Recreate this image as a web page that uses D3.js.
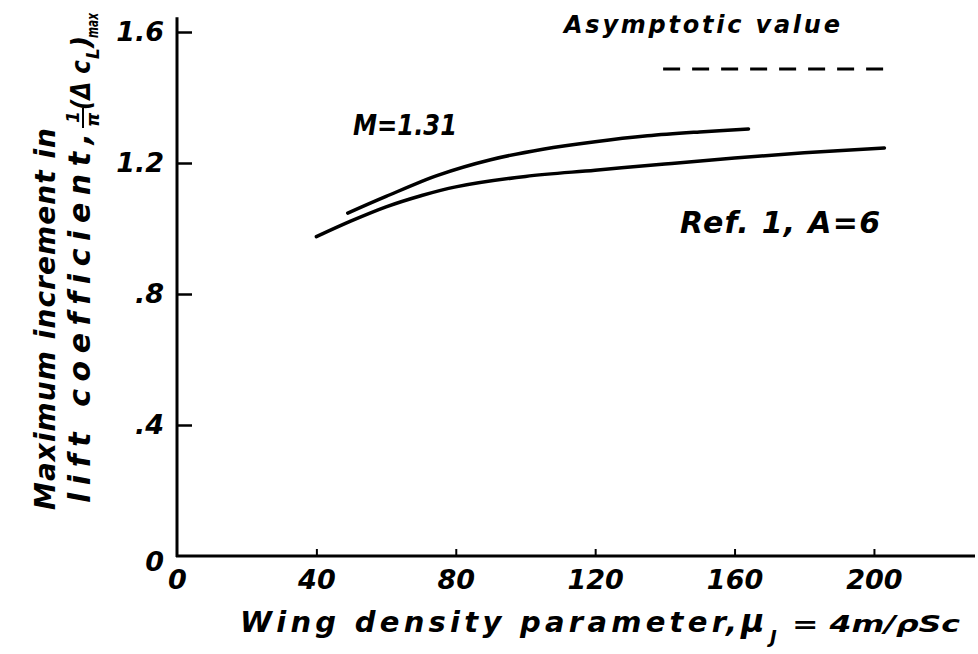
<!DOCTYPE html>
<html>
<head>
<meta charset="utf-8">
<script src="https://cdn.jsdelivr.net/npm/d3@7"></script>
<style>
  body { margin: 0; background: #fff; }
  text { font-family: "DejaVu Sans", sans-serif; font-style: italic; font-weight: bold; fill: #000;
         font-variant-ligatures: none; }
</style>
</head>
<body>
<div id="chart"></div>
<script>
// chart size
const width = 978
const height = 654

// data
const xTicks = [0, 40, 80, 120, 160, 200]
const yTicks = [0, 0.4, 0.8, 1.2, 1.6]
const yTickLabels = ["0", ".4", ".8", "1.2", "1.6"]

// Ref. 1, A = 6
const refMu = [40, 50, 60, 70, 80, 100, 120, 140, 160, 180, 203]
const refVal = [0.975, 1.023, 1.066, 1.1, 1.127, 1.159, 1.178, 1.197, 1.215, 1.231, 1.246]

// M = 1.31
const machMu = [49, 60, 75, 90, 105, 120, 135, 150, 164]
const machVal = [1.047, 1.098, 1.163, 1.21, 1.242, 1.265, 1.283, 1.295, 1.304]

// asymptotic value (dashed)
const asymMu = [139.5, 203]
const asymVal = [1.487, 1.487]

// scales
var x = d3.scaleLinear().domain([0, 229]).range([177, 975])
var y = d3.scaleLinear().domain([0, 1.6]).range([556, 32])

var svg = d3.select("#chart")
            .append("svg")
            .attr("width", width)
            .attr("height", height)

svg.append("rect").attr("width", width).attr("height", height).attr("fill", "white")

// axes lines
svg.append("line")
   .attr("x1", x(0)).attr("x2", x(0))
   .attr("y1", y(0) + 1).attr("y2", y(1.645))
   .attr("stroke", "black").attr("stroke-width", 3)

svg.append("line")
   .attr("x1", x(0) - 1).attr("x2", x(229))
   .attr("y1", y(0)).attr("y2", y(0))
   .attr("stroke", "black").attr("stroke-width", 3)

// y axis ticks (inward) and labels
var yAxis = d3.axisLeft(y)
  .tickValues(yTicks)
  .tickSizeInner(-15)
  .tickSizeOuter(0)
  .tickPadding(13)
  .tickFormat(function(d, i) { return yTickLabels[i] })

var gy = svg.append("g")
  .attr("transform", "translate(" + x(0) + ",0)")
  .call(yAxis)
gy.select(".domain").remove()
gy.selectAll(".tick line").attr("stroke", "black").attr("stroke-width", 2.5)
gy.selectAll(".tick text")
  .style("font-size", "27px")
  .style("font-family", "DejaVu Sans")
  .style("font-style", "italic")
  .style("font-weight", "bold")
gy.selectAll(".tick").filter(function(d) { return d === 0 }).select("line").remove()
gy.selectAll(".tick").filter(function(d) { return d === 0 }).select("text").attr("dy", "0.55em")

// x axis ticks (inward) and labels
var xAxis = d3.axisBottom(x)
  .tickValues(xTicks)
  .tickSizeInner(-7)
  .tickSizeOuter(0)
  .tickPadding(14)
  .tickFormat(d3.format("d"))

var gx = svg.append("g")
  .attr("transform", "translate(0," + y(0) + ")")
  .call(xAxis)
gx.select(".domain").remove()
gx.selectAll(".tick line").attr("stroke", "black").attr("stroke-width", 2)
gx.selectAll(".tick text")
  .style("font-size", "27px")
  .style("font-family", "DejaVu Sans")
  .style("font-style", "italic")
  .style("font-weight", "bold")
gx.selectAll(".tick").filter(function(d) { return d === 0 }).select("line").remove()

// curves
var line = d3.line()
  .x(function(d) { return x(d[0]) })
  .y(function(d) { return y(d[1]) })
  .curve(d3.curveCatmullRom.alpha(0.5))

svg.append("path")
   .datum(refMu.map(function(m, i) { return [m, refVal[i]] }))
   .attr("d", line)
   .attr("fill", "none")
   .attr("stroke", "black")
   .attr("stroke-width", 3.5)
   .attr("stroke-linecap", "round")

svg.append("path")
   .datum(machMu.map(function(m, i) { return [m, machVal[i]] }))
   .attr("d", line)
   .attr("fill", "none")
   .attr("stroke", "black")
   .attr("stroke-width", 3.5)
   .attr("stroke-linecap", "round")

svg.append("path")
   .datum(asymMu.map(function(m, i) { return [m, asymVal[i]] }))
   .attr("d", line)
   .attr("fill", "none")
   .attr("stroke", "black")
   .attr("stroke-width", 3)
   .attr("stroke-dasharray", "17,12")

// annotations
svg.append("text").attr("x", 564).attr("y", 33)
   .style("font-size", "24px")
   .attr("textLength", 276).attr("lengthAdjust", "spacing")
   .text("Asymptotic value")

svg.append("text").attr("x", 353).attr("y", 135)
   .style("font-size", "29px")
   .attr("textLength", 104).attr("lengthAdjust", "spacingAndGlyphs")
   .text("M=1.31")

svg.append("text").attr("x", 680).attr("y", 233)
   .style("font-size", "30px")
   .attr("textLength", 200).attr("lengthAdjust", "spacing")
   .text("Ref. 1, A=6")

// x axis title
svg.append("text").attr("x", 240).attr("y", 632)
   .style("font-size", "29px")
   .attr("textLength", 497).attr("lengthAdjust", "spacing")
   .text("Wing density parameter,")

svg.append("text").attr("x", 741).attr("y", 632)
   .style("font-size", "32px")
   .text("\u03bc")

svg.append("text").attr("x", 770).attr("y", 643)
   .style("font-size", "18px")
   .text("J")

svg.append("text").attr("x", 792).attr("y", 632)
   .style("font-size", "23px")
   .attr("textLength", 168).attr("lengthAdjust", "spacingAndGlyphs")
   .text("= 4m/\u03c1Sc")

// y axis title, rotated (local x goes up the page, local y goes right)
var gt = svg.append("g").attr("transform", "rotate(-90)")

gt.append("text").attr("x", -510).attr("y", 55)
  .style("font-size", "28px")
  .attr("textLength", 382).attr("lengthAdjust", "spacing")
  .text("Maximum increment in")

gt.append("text").attr("x", -503).attr("y", 90)
  .style("font-size", "30px")
  .attr("textLength", 370).attr("lengthAdjust", "spacing")
  .text("lift coefficient,")

// fraction 1/pi
gt.append("text").attr("x", -123).attr("y", 79)
  .style("font-size", "17px")
  .text("1")
gt.append("line")
  .attr("x1", -128).attr("x2", -108)
  .attr("y1", 83).attr("y2", 83)
  .attr("stroke", "black").attr("stroke-width", 2)
gt.append("text").attr("x", -127).attr("y", 99)
  .style("font-size", "18px")
  .text("\u03c0")

gt.append("text").attr("x", -110).attr("y", 90)
  .style("font-size", "27px")
  .attr("textLength", 50).attr("lengthAdjust", "spacingAndGlyphs")
  .text("(\u0394 c")

gt.append("text").attr("x", -59).attr("y", 99)
  .style("font-size", "17px")
  .text("L")

gt.append("text").attr("x", -48).attr("y", 90)
  .style("font-size", "27px")
  .text(")")

gt.append("text").attr("x", -38).attr("y", 98)
  .style("font-size", "16px")
  .attr("textLength", 25).attr("lengthAdjust", "spacingAndGlyphs")
  .text("max")
</script>
</body>
</html>
